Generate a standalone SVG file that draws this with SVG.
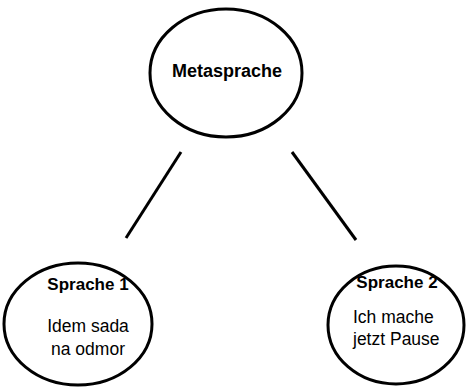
<svg xmlns="http://www.w3.org/2000/svg" width="466" height="387" viewBox="0 0 466 387">
<style>
.n{fill:#fff;stroke:#000;stroke-width:3}
.e{stroke:#000;stroke-width:3;fill:none}
.t{font-family:"Liberation Sans",Arial,sans-serif;font-size:17.5px;fill:#000}
.b{font-weight:bold;font-size:17px}
</style>
<rect width="466" height="387" fill="#fff"/>
<g id="connectors">
<line class="e" x1="181" y1="152" x2="126" y2="238"/>
<line class="e" x1="292" y1="152" x2="356" y2="240"/>
</g>
<g id="meta">
<ellipse class="n" cx="226" cy="73" rx="76" ry="64"/>
<text class="t b" x="227" y="77" text-anchor="middle" style="font-size:18px">Metasprache</text>
</g>
<g id="sprache1">
<ellipse class="n" cx="78" cy="324" rx="74" ry="61"/>
<text class="t b" x="88" y="290" text-anchor="middle">Sprache 1</text>
<text class="t" x="88" y="332" text-anchor="middle">Idem sada</text>
<text class="t" x="88" y="355" text-anchor="middle">na odmor</text>
</g>
<g id="sprache2">
<ellipse class="n" cx="396" cy="325" rx="68" ry="59"/>
<text class="t b" x="397" y="288" text-anchor="middle">Sprache 2</text>
<text class="t" x="353" y="323">Ich mache</text>
<text class="t" x="353" y="345">jetzt Pause</text>
</g>
</svg>
